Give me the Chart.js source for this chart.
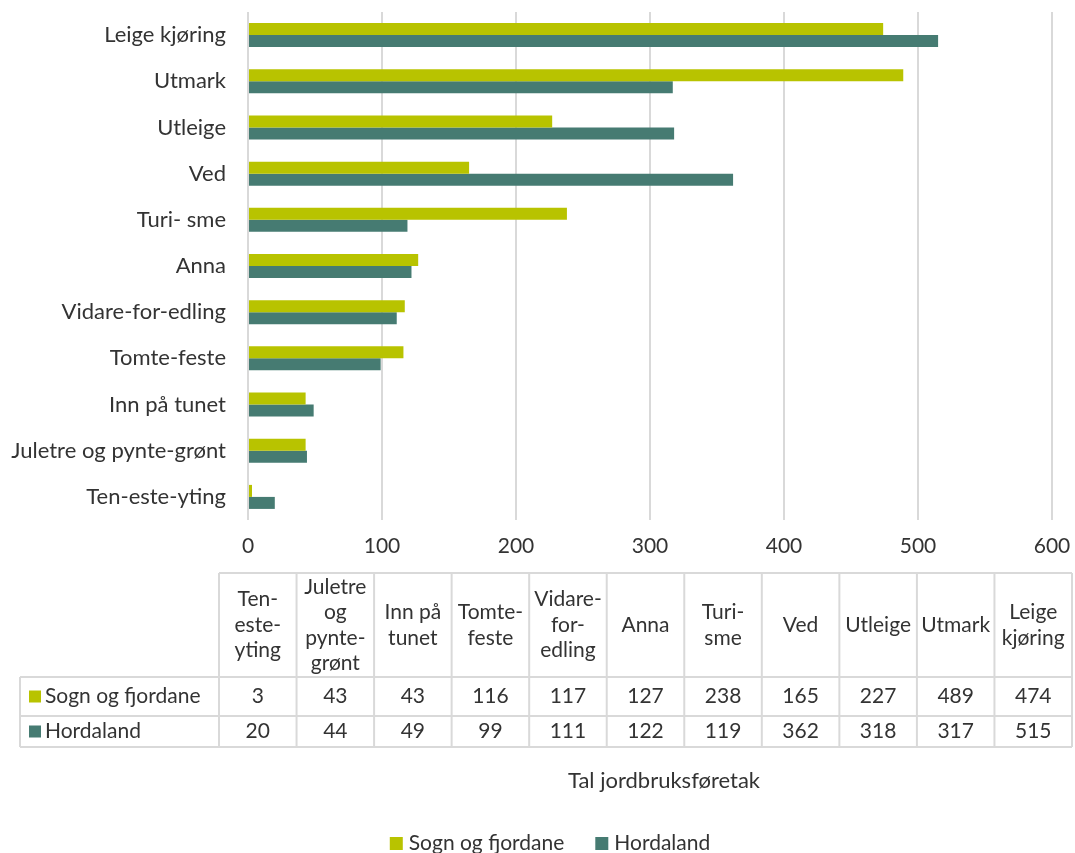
<!DOCTYPE html>
<html>
<head>
<meta charset="utf-8">
<script src="https://cdn.jsdelivr.net/npm/chart.js@4"></script>
<style>
	html, body { margin: 0; padding: 0; background: #ffffff; }
	#wrap { width: 1075px; height: 853px; }
</style>
</head>
<body>
<div id="wrap"><canvas id="farmChart" width="1075" height="853"></canvas></div>
<script>
// table order (bottom to top in the chart)
const categories = [
	"Ten-este-yting",
	"Juletre og pynte-grønt",
	"Inn på tunet",
	"Tomte-feste",
	"Vidare-for-edling",
	"Anna",
	"Turi- sme",
	"Ved",
	"Utleige",
	"Utmark",
	"Leige kjøring",
];
const tableHeaders = [
	["Ten-", "este-", "yting"],
	["Juletre", "og", "pynte-", "grønt"],
	["Inn på", "tunet"],
	["Tomte-", "feste"],
	["Vidare-", "for-", "edling"],
	["Anna"],
	["Turi-", "sme"],
	["Ved"],
	["Utleige"],
	["Utmark"],
	["Leige", "kjøring"],
];
const seriesNames = ["Sogn og fjordane", "Hordaland"];
const sognValues = [3, 43, 43, 116, 117, 127, 238, 165, 227, 489, 474];
const hordalandValues = [20, 44, 49, 99, 111, 122, 119, 362, 318, 317, 515];
const xTicks = [0, 100, 200, 300, 400, 500, 600];
const axisTitle = "Tal jordbruksføretak";

const colors = ["#b8c300", "#467b72"];
const textColor = "#333333";
const gridColor = "#d9d9d9";
const fontFamily = "Lato, 'Open Sans', sans-serif";

const tablePlugin = {
	id: "dataTable",
	afterDraw(chart) {
		const c = chart.ctx;
		const values = [sognValues, hordalandValues];
		const left = 219;
		const right = 1072;
		const labelLeft = 20;
		const colW = (right - left) / categories.length;
		const rows = [573, 677, 716, 747];

		c.save();
		c.strokeStyle = gridColor;
		c.lineWidth = 2;
		c.beginPath();
		c.moveTo(left, rows[0]);
		c.lineTo(right, rows[0]);
		for (let i = 1; i < rows.length; i++) {
			c.moveTo(labelLeft, rows[i]);
			c.lineTo(right, rows[i]);
		}
		for (let i = 0; i <= categories.length; i++) {
			const x = left + i * colW;
			c.moveTo(x, rows[0]);
			c.lineTo(x, rows[3]);
		}
		c.moveTo(labelLeft, rows[1]);
		c.lineTo(labelLeft, rows[3]);
		c.stroke();

		c.fillStyle = textColor;
		c.font = "21px " + fontFamily;
		c.textAlign = "center";
		c.textBaseline = "middle";
		const lineH = 25.5;
		tableHeaders.forEach((lines, i) => {
			const cx = left + (i + 0.5) * colW;
			const cy = (rows[0] + rows[1]) / 2;
			const y0 = cy - ((lines.length - 1) * lineH) / 2;
			lines.forEach((line, j) => c.fillText(line, cx, y0 + j * lineH));
		});
		values.forEach((arr, r) => {
			const cy = (rows[r + 1] + rows[r + 2]) / 2;
			c.textAlign = "center";
			arr.forEach((v, i) => {
				c.fillText(String(v), left + (i + 0.5) * colW, cy);
			});
			c.fillStyle = colors[r];
			c.fillRect(29, cy - 6, 12, 12);
			c.fillStyle = textColor;
			c.textAlign = "left";
			c.fillText(seriesNames[r], 45, cy);
		});

		// axis title
		c.textAlign = "center";
		c.font = "22px " + fontFamily;
		c.fillText(axisTitle, 664, 781);

		// legend
		c.font = "21px " + fontFamily;
		const box = 13;
		const gap = 6;
		const spacing = 31;
		const widths = seriesNames.map((n) => box + gap + c.measureText(n).width);
		const total = widths[0] + widths[1] + spacing;
		let x = 550 - total / 2;
		const ly = 843;
		c.textAlign = "left";
		seriesNames.forEach((n, i) => {
			c.fillStyle = colors[i];
			c.fillRect(x, ly - 6, box, box);
			c.fillStyle = textColor;
			c.fillText(n, x + box + gap, ly);
			x += widths[i] + spacing;
		});
		c.restore();
	},
};

const ctx = document.getElementById("farmChart").getContext("2d");

new Chart(ctx, {
	type: "bar",
	data: {
		labels: categories,
		datasets: [
			{
				label: seriesNames[0],
				data: sognValues,
				backgroundColor: colors[0],
				categoryPercentage: 0.52,
				barPercentage: 1.0,
			},
			{
				label: seriesNames[1],
				data: hordalandValues,
				backgroundColor: colors[1],
				categoryPercentage: 0.52,
				barPercentage: 1.0,
			},
		],
	},
	options: {
		indexAxis: "y",
		responsive: false,
		animation: false,
		layout: {
			padding: { left: 0, right: 23, top: 12, bottom: 293 },
		},
		plugins: {
			legend: { display: false },
			tooltip: { enabled: false },
		},
		scales: {
			x: {
				min: 0,
				max: 600,
				afterBuildTicks: (scale) => {
					scale.ticks = xTicks.map((v) => ({ value: v }));
				},
				afterFit: (scale) => {
					scale.height = 40;
					scale.paddingLeft = 0;
					scale.paddingRight = 0;
				},
				grid: {
					color: gridColor,
					lineWidth: 2,
					drawTicks: false,
				},
				border: { display: false },
				ticks: {
					color: textColor,
					font: { family: fontFamily, size: 21 },
					padding: 14,
				},
			},
			y: {
				reverse: true,
				afterFit: (scale) => {
					scale.width = 248;
					scale.paddingTop = 0;
					scale.paddingBottom = 0;
				},
				grid: { display: false },
				border: { display: false },
				ticks: {
					color: textColor,
					font: { family: fontFamily, size: 22 },
					padding: 14,
					autoSkip: false,
				},
			},
		},
	},
	plugins: [tablePlugin],
});
</script>
</body>
</html>
